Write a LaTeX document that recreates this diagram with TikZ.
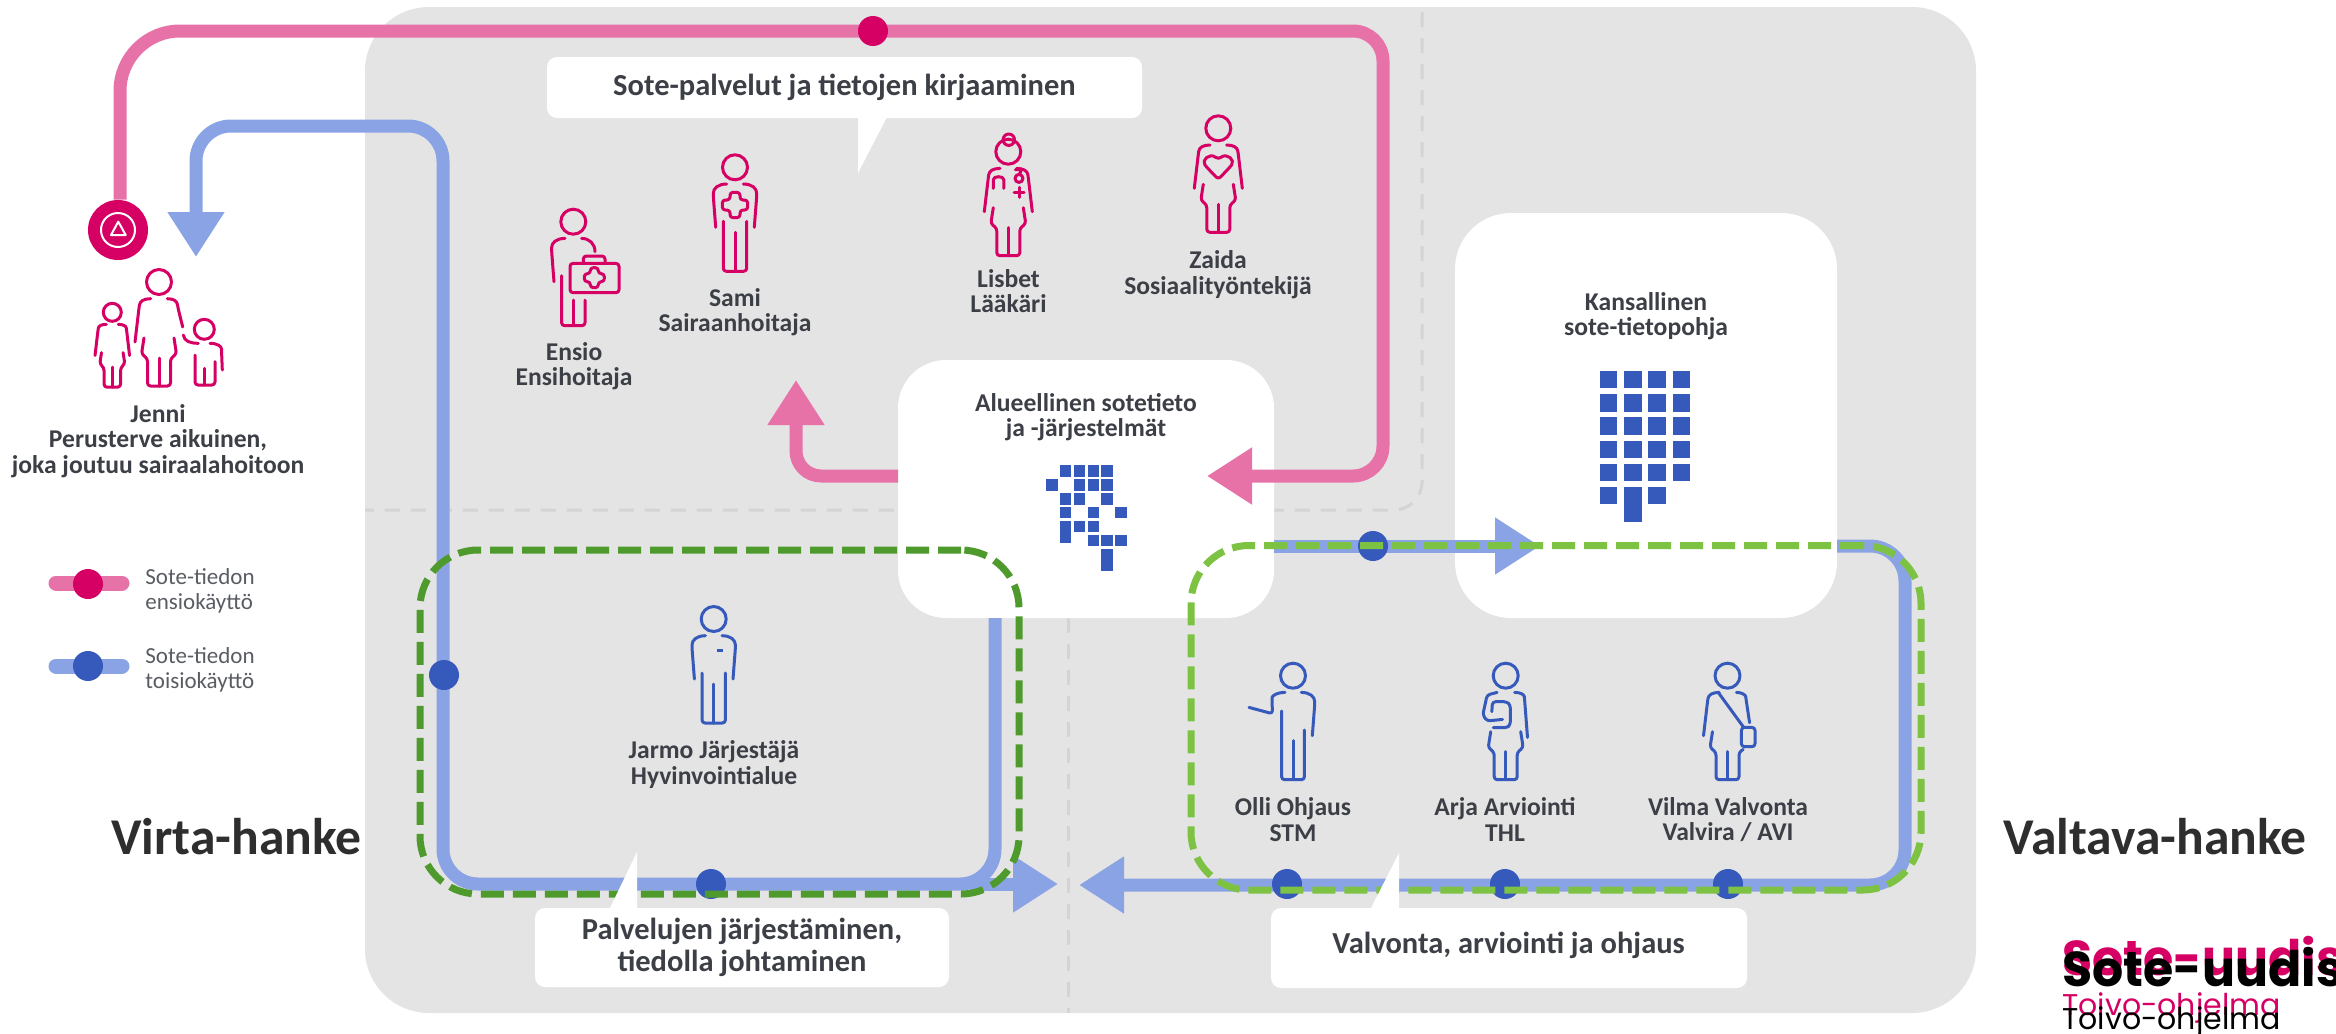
\documentclass[tikz,border=0pt]{standalone}
\usepackage{fontspec}
\setmainfont{Carlito}
\newfontfamily\logofont{Poppins}
\usepackage{tikz}
\usetikzlibrary{arrows.meta}

\definecolor{sotepink}{RGB}{214,0,100}
\definecolor{linepink}{RGB}{230,114,168}
\definecolor{soteblue}{RGB}{54,90,188}
\definecolor{lineblue}{RGB}{138,163,229}
\definecolor{darkgreen}{RGB}{79,154,45}
\definecolor{lightgreen}{RGB}{125,194,66}
\definecolor{panelgray}{RGB}{228,228,228}
\definecolor{seamgray}{RGB}{212,212,212}
\definecolor{labelgray}{RGB}{60,63,70}

\tikzset{
	iconline/.style={draw,line width=1.5pt,line cap=round,line join=round,rounded corners=1.5pt},
	whitebox/.style={fill=white,inner sep=0,outer sep=0,rectangle},
	seam/.style={draw=seamgray,line width=1.5pt,dash pattern=on 7.5pt off 5.5pt},
	pinkline/.style={draw=linepink,line width=6.5pt},
	blueline/.style={draw=lineblue,line width=6.5pt},
	pinkarrow/.style={pinkline,-{Triangle[length=22.5pt,width=27pt]}},
	bluearrow/.style={blueline,-{Triangle[length=22.5pt,width=27pt]}},
	pinkdot/.style={circle,fill=sotepink,minimum size=15pt,inner sep=0},
	bluedot/.style={circle,fill=soteblue,minimum size=15pt,inner sep=0},
	greenbox/.style={draw=#1,line width=3.5pt,dash pattern=on 11.5pt off 4.5pt,rounded corners=29pt,
		inner sep=0,outer sep=0,rectangle},
	rolelabel/.style={align=center,text=labelgray,inner sep=0,font=\bfseries\fontsize{12.8}{12.8}\selectfont},
	boxlabel/.style={align=center,text=labelgray,inner sep=0,font=\bfseries\fontsize{15.25}{15.8}\selectfont},
	legendlabel/.style={align=left,anchor=west,text=labelgray!85,inner sep=0,font=\fontsize{11.5}{12.5}\selectfont},
	projectlabel/.style={text=black!82,inner sep=0,font=\bfseries\fontsize{25.8}{25.8}\selectfont},
	blockcell/.style={fill=soteblue},
}

\newcommand{\fighead}{\draw[iconline] (0,0) circle[radius=12.5];}
\newcommand{\manleft}{\draw[iconline] (-8.3,16.7) .. controls (-17,16.7) and (-21.7,21) .. (-21.7,29) -- (-19.3,60);}
\newcommand{\manright}{\draw[iconline] (8.3,16.7) .. controls (17,16.7) and (21.7,21) .. (21.7,29) -- (19.3,60);}
\newcommand{\womanleft}{\draw[iconline] (-8.3,16.7) .. controls (-15,16.7) and (-19,19) .. (-20,26) -- (-24,60);}
\newcommand{\womanright}{\draw[iconline] (8.3,16.7) .. controls (15,16.7) and (19,19) .. (20,26) -- (24,60);}
\newcommand{\mantrousers}{\draw[iconline] (-11.7,54) -- (-11.7,104) -- (11.7,104) -- (11.7,54); \draw[iconline] (0,65) -- (0,104);}
\newcommand{\womanskirt}{\draw[iconline] (-15,56) -- (-17.5,72) -- (-11.5,76.5) -- (-11.5,104) -- (11.5,104) -- (11.5,76.5) -- (17.5,72) -- (15,56);
	\draw[iconline] (0,76) -- (0,104);}
\newcommand{\crossicon}[4]{\draw[iconline,shift={(#1,#2)}] (-#4,-#3) -- (#4,-#3) -- (#4,-#4) -- (#3,-#4) -- (#3,#4) -- (#4,#4) -- (#4,#3)
	-- (-#4,#3) -- (-#4,#4) -- (-#3,#4) -- (-#3,-#4) -- (-#4,-#4) -- cycle;}

\tikzset{
	pics/sami/.style={code={\fighead \manleft \manright \mantrousers \crossicon{0}{37.7}{12.7}{5}}},
	pics/ensio/.style={code={\fighead \manleft
		\draw[iconline] (8.3,16.7) .. controls (16,16.7) and (21.7,22) .. (21.7,30);
		\draw[iconline] (-11.7,54) -- (-11.7,104) -- (11.7,104) -- (11.7,78.3);
		\draw[iconline] (0,78.3) -- (0,104);
		\draw[iconline] (-3.3,41.7) rectangle (45.7,71);
		\draw[iconline] (10,41.7) -- (10,34.3) -- (31.7,34.3) -- (31.7,41.7);
		\crossicon{21}{56}{10}{4}}},
	pics/lisbet/.style={code={\fighead \womanleft \womanright \womanskirt
		\draw[iconline] (0.5,-12) circle[radius=5.7];
		\draw[iconline] (-15,36.7) -- (-15,31) .. controls (-15,24) and (-4.5,24) .. (-4.5,31) -- (-4.5,36.7);
		\draw[iconline] (10.7,26.7) circle[radius=4];
		\draw[iconline] (7,18) -- (14,18) -- (10.7,22.7);
		\draw[iconline] (5.7,40.7) -- (15.7,40.7);
		\draw[iconline] (10.7,35.7) -- (10.7,45.7);}},
	pics/zaida/.style={code={\fighead \womanleft \womanright \womanskirt
		\draw[iconline] (0,51) -- (-11.5,39) .. controls (-17,32) and (-9,24) .. (0,31) .. controls (9,24) and (17,32) .. (11.5,39) -- cycle;}},
	pics/jennimother/.style={code={\fighead \womanleft \womanskirt
		\draw[iconline] (8.3,16.7) .. controls (15,16.7) and (18,19) .. (19,26) -- (23.7,45);}},
	pics/jennigirl/.style={code={\fighead \womanleft \womanright \womanskirt}},
	pics/jenniboy/.style={code={\draw[iconline] (0,0) circle[radius=10];
		\draw[iconline] (5.7,14) .. controls (13,14) and (17.3,17) .. (17.3,23) -- (18,40.7);
		\draw[iconline] (-21,5.7) .. controls (-20,12) and (-14,14) .. (-6,14);
		\draw[iconline] (-9.3,25.7) -- (-9.3,55.7) -- (10.7,55.7) -- (10.7,32.3);
		\draw[iconline] (0,39) -- (0,55.7);}},
	pics/jarmo/.style={code={\fighead \manleft \manright \mantrousers
		\fill (3.5,30) rectangle (9.5,32.5);}},
	pics/olli/.style={code={\fighead \manright
		\draw[iconline] (-8,16.7) .. controls (-16,16.7) and (-21,20) .. (-21,25) -- (-20.5,38) -- (-44,31.7);
		\draw[iconline] (-11.4,35.3) -- (-11.4,104) -- (11.4,104) -- (11.4,54.3);
		\draw[iconline] (0,65) -- (0,104);}},
	pics/arja/.style={code={\fighead \womanskirt
		\draw[iconline] (-8.6,16.7) -- (-18.6,19.3) -- (-22.9,39.3) -- (-18.6,45.3) -- (-3.2,43.7);
		\draw[iconline] (8.9,16.7) .. controls (15,16.7) and (18.5,19) .. (18.9,24) -- (21.8,61.7);
		\draw[iconline] (-13.9,36) -- (-13.2,26) -- (1.1,26) -- (4.6,29.3) -- (4.6,49.3) -- (1.1,52) -- (-12.5,52);}},
	pics/vilma/.style={code={\fighead \womanleft
		\draw[iconline] (-9.3,16.7) -- (15.7,51);
		\draw[iconline] (8.9,16.7) .. controls (14,16.7) and (18,19) .. (18.6,24) -- (22.1,47);
		\draw[iconline] (13.9,51.7) rectangle (27.5,71);
		\draw[iconline] (-15,56) -- (-17.5,72) -- (-11.5,76.5) -- (-11.5,104) -- (11.5,104) -- (11.5,76.5) -- (15.7,73.7);
		\draw[iconline] (0,76) -- (0,104);}},
}

\begin{document}
\begin{tikzpicture}[x=0.5pt,y=-0.5pt]
	\useasboundingbox (0,0) rectangle (2336,1034);

	% grey panel and its seams
	\node (panel) [whitebox,fill=panelgray,rounded corners=32pt,minimum width=805.5pt,minimum height=503pt] at (1170.5,510) {};
	\draw[seam,rounded corners=14pt] (1422,12) -- (1422,510) -- (panel.west |- 0,510);
	\draw[seam] (1068,618) -- (panel.south -| 1068,0);

	% white boxes of the two systems
	\node (alue) [whitebox,rounded corners=24pt,minimum width=188pt,minimum height=129pt] at (1086,489) {};
	\node (kansallinen) [whitebox,rounded corners=28pt,minimum width=191pt,minimum height=202.5pt] at (1646,415.5) {};

	% callout of the care staff
	\node (kirjaus) [whitebox,rounded corners=5pt,minimum width=297.5pt,minimum height=30.5pt] at (844.5,87.5) {};
	\fill[white] (858,117) -- (887,117) -- (858,173) -- cycle;

	% primary use
	\node (hata) [circle,fill=sotepink,minimum size=30pt,inner sep=0] at (118,230) {};
	\draw[white,line width=1pt] (hata.center) circle[radius=17];
	\draw[white,line width=1pt,line join=round] (118.3,221.7) -- (111,235) -- (125.7,235) -- cycle;
	\draw[pinkarrow] (hata.north -| 120,0) [rounded corners=30pt] -- (120,31) [rounded corners=15pt] -- (1383,31) -- (1383,476)
		-- ([xshift=-33.5pt,yshift=6.5pt]alue.east);
	\draw[pinkarrow,rounded corners=12.5pt] ([yshift=6.5pt]alue.west) -- (796,476) -- (796,380);
	\node (pinkmid) [pinkdot] at (873,31) {};

	% secondary use
	\draw[bluearrow,rounded corners=17.5pt] ([xshift=48.5pt]alue.south west) -- (995,884) -- (443,884) -- (443,126) -- (196,126) -- (196,257);
	\draw[bluearrow] (970,884) -- (1058,884);
	\draw[bluearrow] ([yshift=36pt]alue.south east) -- ([xshift=42.5pt,yshift=36pt]kansallinen.south west);
	\draw[bluearrow,rounded corners=17.5pt] ([yshift=36pt]kansallinen.south east) -- (1905,546) -- (1905,885) -- (1079,885);
	\node (bluewest) [bluedot] at (444,675) {};
	\node (bluesouth) [bluedot] at (711,884) {};
	\node (bluenorth) [bluedot] at (1373,546) {};
	\node (blueolli) [bluedot] at (1287,884) {};
	\node (bluearja) [bluedot] at (1505,884) {};
	\node (bluevilma) [bluedot] at (1728,884) {};

	% project frames
	\node (virta) [greenbox=darkgreen,minimum width=299.5pt,minimum height=172pt] at (719.5,722) {};
	\node (valtava) [greenbox=lightgreen,minimum width=365pt,minimum height=172.25pt] at (1556,717.75) {};

	% callouts below the frames
	\fill[white] (609,910) -- (637,852) -- (637,910) -- cycle;
	\fill[white] (1370,910) -- (1399,853) -- (1399,910) -- cycle;
	\node (johtaminen) [whitebox,rounded corners=5pt,minimum width=207pt,minimum height=39.5pt] at (742,947.5) {};
	\node (valvonta) [whitebox,rounded corners=5pt,minimum width=238pt,minimum height=40pt] at (1509,948) {};

	% people
	\pic[color=sotepink] at (159,282) {jennimother};
	\pic[color=sotepink,scale=0.72] at (112.3,312.3) {jennigirl};
	\pic[color=sotepink] at (204.3,329.3) {jenniboy};
	\pic[color=sotepink] at (573.3,221.7) {ensio};
	\pic[color=sotepink] at (735,167.3) {sami};
	\pic[color=sotepink] at (1008.3,151.7) {lisbet};
	\pic[color=sotepink] at (1218.3,128.3) {zaida};
	\pic[color=soteblue] at (713.7,619) {jarmo};
	\pic[color=soteblue] at (1293,675.7) {olli};
	\pic[color=soteblue] at (1505.7,675.7) {arja};
	\pic[color=soteblue] at (1727.5,675.7) {vilma};

	% data blocks
	\foreach \c/\r in {1/0,2/0,3/0,4/0,0/1,2/1,3/1,4/1,1/2,2/2,4/2,1/3,3/3,5/3,2/4,3/4,3/5,4/5,5/5}
		\fill[blockcell] ({1046+13.85*\c},{465.3+13.85*\r}) rectangle ++(11.5,11.5);
	\fill[blockcell] ({1046+13.85},{465.3+13.85*4}) rectangle ++(11.5,22.5);
	\fill[blockcell] ({1046+13.85*4},{549}) rectangle ++(11.5,21.7);
	\foreach \c in {0,1,2,3}
		\foreach \r in {0,1,2,3,4}
			\fill[blockcell] ({1600+24.2*\c},{371+23.2*\r}) rectangle ++(17.3,17.3);
	\fill[blockcell] (1600,487) rectangle ++(17.3,17.3);
	\fill[blockcell] (1624.2,487) rectangle ++(17.3,34.7);
	\fill[blockcell] (1648.4,487) rectangle ++(17.3,17.3);

	% texts
	\node (jenni) [rolelabel] at (158,441) {Jenni\\Perusterve aikuinen,\\joka joutuu sairaalahoitoon};
	\node (ensiolabel) [rolelabel] at (574,366) {Ensio\\Ensihoitaja};
	\node (samilabel) [rolelabel] at (735,312) {Sami\\Sairaanhoitaja};
	\node (lisbetlabel) [rolelabel] at (1008.5,291) {Lisbet\\Lääkäri};
	\node (zaidalabel) [rolelabel] at (1218,274.5) {Zaida\\Sosiaalityöntekijä};
	\node (aluelabel) [rolelabel] at (alue |- 0,417) {Alueellinen sotetieto\\ja -järjestelmät};
	\node (kanslabel) [rolelabel] at (kansallinen |- 0,316) {Kansallinen\\sote-tietopohja};
	\node (jarmolabel) [rolelabel] at (714,764.5) {Jarmo Järjestäjä\\Hyvinvointialue};
	\node (ollilabel) [rolelabel] at (1293,819.5) {Olli Ohjaus\\STM};
	\node (arjalabel) [rolelabel] at (1505,819.5) {Arja Arviointi\\THL};
	\node (vilmalabel) [rolelabel] at (1728,819.5) {Vilma Valvonta\\Valvira / AVI};
	\node (kirjauslabel) [boxlabel] at (kirjaus) {Sote-palvelut ja tietojen kirjaaminen};
	\node (johtaminenlabel) [boxlabel] at (johtaminen) {Palvelujen järjestäminen,\\tiedolla johtaminen};
	\node (valvontalabel) [boxlabel] at (1508.6,945) {Valvonta, arviointi ja ohjaus};
	\node (virtalabel) [projectlabel] at (236.5,837) {Virta-hanke};
	\node (valtavalabel) [projectlabel] at (2155,837) {Valtava-hanke};

	% legend
	\draw[draw=linepink,line width=7.5pt,line cap=round] (56,583) -- (122,583);
	\node (legendpink) [pinkdot] at (88,584) {};
	\node (legendpinklabel) [legendlabel] at (145,590.5) {Sote-tiedon\\ensiokäyttö};
	\draw[draw=lineblue,line width=7.5pt,line cap=round] (56,666) -- (122,666);
	\node (legendblue) [bluedot] at (88,666) {};
	\node (legendbluelabel) [legendlabel] at (145,670) {Sote-tiedon\\toisiokäyttö};

	% logo
	\node (logoa) [anchor=base west,inner sep=0,text=sotepink,font=\logofont\bfseries\fontsize{24.5}{24.5}\selectfont] at (2062,975) {Sote-uudis};
	\node (logob) [anchor=base west,inner sep=0,text=black,font=\logofont\bfseries\fontsize{24.5}{24.5}\selectfont] at (2062,986) {Sote-uudis};
	\node (logoc) [anchor=base west,inner sep=0,text=sotepink,font=\logofont\fontsize{15}{15}\selectfont] at (2062,1015) {Toivo-ohjelma};
	\node (logod) [anchor=base west,inner sep=0,text=black,font=\logofont\fontsize{15}{15}\selectfont] at (2062,1029) {Toivo-ohjelma};
\end{tikzpicture}
\end{document}
